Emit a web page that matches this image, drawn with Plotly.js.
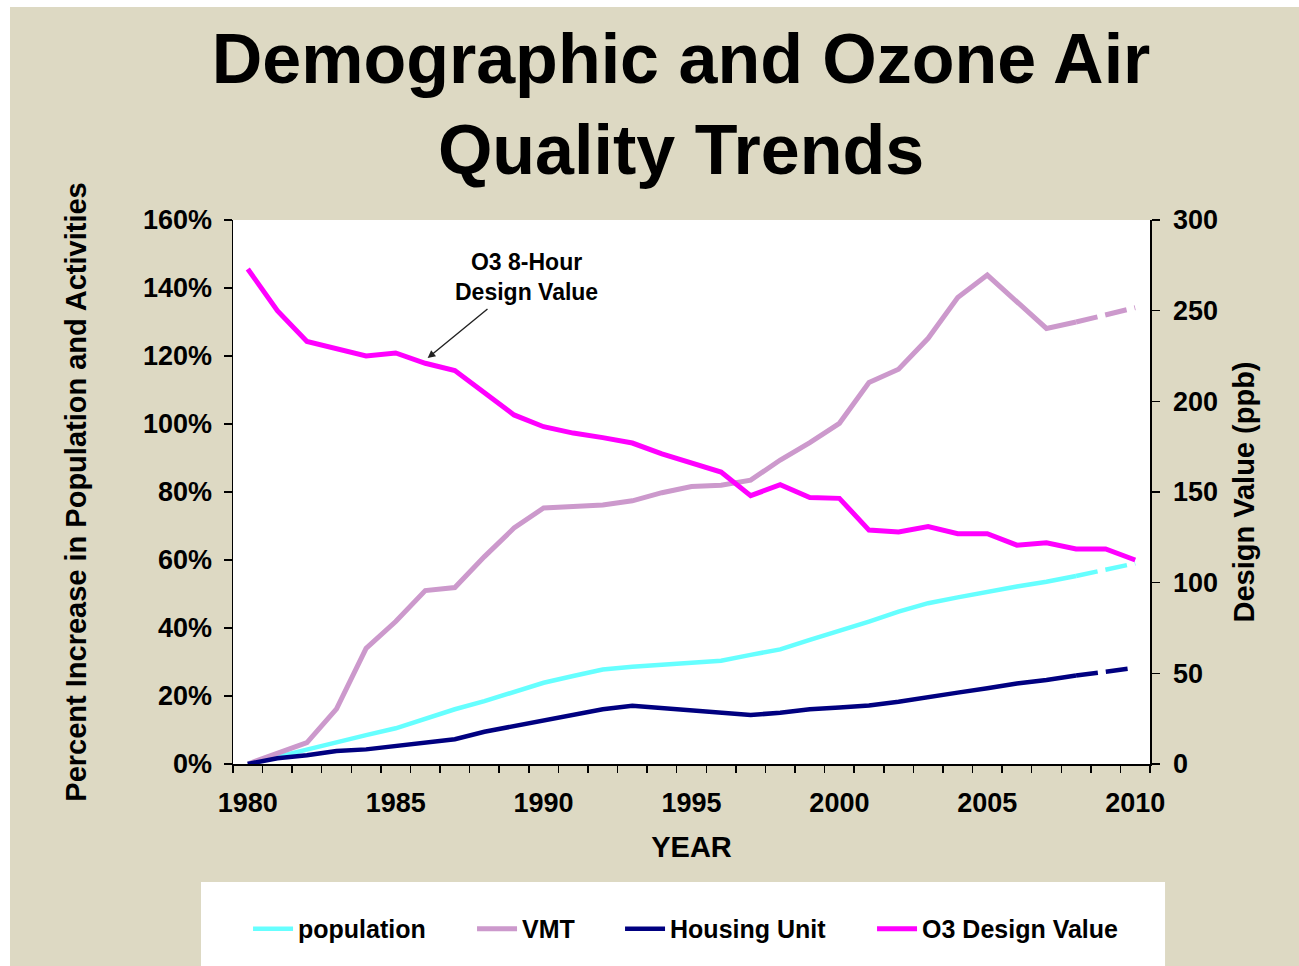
<!DOCTYPE html>
<html>
<head>
<meta charset="utf-8">
<script src="https://cdn.plot.ly/plotly-3.0.1.min.js"></script>
<style>
  html, body { margin: 0; padding: 0; background: #ffffff; width: 1299px; height: 966px; overflow: hidden; }
  #chart { position: absolute; left: 10px; top: 7px; width: 1289px; height: 959px; }
</style>
</head>
<body>
<div id="chart"></div>
<script>
// ---- data ----
const years = [1980,1981,1982,1983,1984,1985,1986,1987,1988,1989,1990,1991,1992,1993,1994,1995,1996,1997,1998,1999,2000,2001,2002,2003,2004,2005,2006,2007,2008,2009,2010];
const population = [0,2.2,4.1,6.6,8.5,10.5,13.4,16.1,18.5,21.3,23.9,25.9,27.8,28.6,29.1,29.6,30.4,32.1,33.7,36.5,39.1,41.9,44.8,47.3,49.0,50.7,52.2,53.6,55.3,57.1,59.0];
const vmt = [0,3.2,6.3,16.2,34.0,41.9,51.0,51.9,61.0,69.4,75.3,75.7,76.2,77.4,79.8,81.6,82.0,83.5,89.4,94.5,100.2,112.2,116.1,125.2,137.2,143.8,136.0,128.1,130.0,132.2,134.2];
const housing = [0,1.7,2.6,3.8,4.3,5.3,6.3,7.3,9.5,11.2,12.9,14.6,16.1,17.1,16.4,15.9,14.9,14.4,15.1,16.1,16.6,17.2,18.3,19.8,21.0,22.3,23.7,24.7,26.0,27.1,28.3];
const o3 = [273,250,233,229,225,226.7,221,217,205,192.5,186,182.5,180,177,171,166,161,148,154,147,146.5,129,128,131,127,127,120.7,122,118.6,118.6,112.5];
const projectionStartYear = 2008;

const leftTicks = [0,20,40,60,80,100,120,140,160];
const leftTickText = ['0%','20%','40%','60%','80%','100%','120%','140%','160%'];
const rightTicks = [0,50,100,150,200,250,300];
const xLabelYears = [1980,1985,1990,1995,2000,2005,2010];

const names = ['population','VMT','Housing Unit','O3 Design Value'];
const colors = ['#66FFFF','#CC99CC','#000080','#FF00FF'];

// ---- build traces ----
const cut = years.indexOf(projectionStartYear);
const FONT = '"Liberation Sans", Arial, sans-serif';
function solidPart(arr){ return arr.slice(0, cut + 1); }
function dashPart(arr){ return arr.slice(cut); }

const series = [population, vmt, housing];
const lw = [4.5, 5, 4.5];
const legendWidths = [169, 93, 197];
const traces = [];
series.forEach((s, i) => {
  traces.push({
    x: solidPart(years), y: solidPart(s), name: names[i], type: 'scatter', mode: 'lines',
    line: {color: colors[i], width: lw[i]}, legendwidth: legendWidths[i], legendrank: i + 1
  });
});
series.forEach((s, i) => {
  traces.push({
    x: dashPart(years), y: dashPart(s), name: names[i], type: 'scatter', mode: 'lines',
    line: {color: colors[i], width: lw[i], dash: '22px,8px'}, showlegend: false
  });
});
traces.push({
  x: years, y: o3, name: names[3], type: 'scatter', mode: 'lines', yaxis: 'y2',
  line: {color: colors[3], width: 5}, legendrank: 4
});

const minorTicks = years.map(y => y - 0.5).concat([years[years.length - 1] + 0.5]);

const layout = {
  width: 1289, height: 959,
  paper_bgcolor: '#DDD9C3',
  plot_bgcolor: '#FFFFFF',
  margin: {l: 223, r: 149, t: 213, b: 202},
  font: {family: FONT, color: '#000000', weight: 'bold'},
  showlegend: true,
  title: {
    text: 'Demographic and Ozone Air<br>Quality Trends',
    font: {family: FONT, size: 70, weight: 'bold', color: '#000000'},
    xref: 'paper', x: 0.4886, xanchor: 'center',
    yref: 'container', y: 0.921, yanchor: 'top'
  },
  xaxis: {
    range: [1979.5, 2010.5], showgrid: false, zeroline: false,
    showline: true, linecolor: '#000000', linewidth: 1.5,
    tickvals: xLabelYears, ticks: '', ticklabelstandoff: 14,
    tickfont: {family: FONT, size: 27, weight: 'bold', color: '#000000'},
    minor: {tickvals: minorTicks, ticks: 'outside', ticklen: 7, tickcolor: '#000000', tickwidth: 1.5, showgrid: false},
    title: {text: 'YEAR', font: {family: FONT, size: 29, weight: 'bold', color: '#000000'}, standoff: 20},
    automargin: true, fixedrange: true
  },
  yaxis: {
    range: [0, 160], tickvals: leftTicks, ticktext: leftTickText, showgrid: false, zeroline: false,
    showline: true, linecolor: '#000000', linewidth: 1.5,
    ticks: 'outside', ticklen: 8, tickcolor: '#000000', tickwidth: 1.5, ticklabelstandoff: 6,
    tickfont: {family: FONT, size: 27, weight: 'bold', color: '#000000'},
    title: {text: 'Percent Increase in Population and Activities', font: {family: FONT, size: 29, weight: 'bold', color: '#000000'}, standoff: 48},
    automargin: true, fixedrange: true
  },
  yaxis2: {
    range: [0, 300], tickvals: rightTicks, overlaying: 'y', side: 'right', showgrid: false, zeroline: false,
    showline: true, linecolor: '#000000', linewidth: 1.5,
    ticks: 'outside', ticklen: 8, tickcolor: '#000000', tickwidth: 1.5, ticklabelstandoff: 8,
    tickfont: {family: FONT, size: 27, weight: 'bold', color: '#000000'},
    title: {text: 'Design Value (ppb)', font: {family: FONT, size: 29, weight: 'bold', color: '#000000'}, standoff: 16},
    automargin: true, fixedrange: true
  },
  legend: {
    orientation: 'h', x: 0.0164, xanchor: 'left', y: -0.3033, yanchor: 'middle',
    bgcolor: 'rgba(0,0,0,0)', borderwidth: 0, itemwidth: 40,
    font: {family: FONT, size: 25, weight: 'bold', color: '#000000'},
    traceorder: 'normal'
  },
  shapes: [{
    type: 'rect', xref: 'paper', yref: 'paper', layer: 'below',
    x0: -0.0349, x1: 1.0164, y0: -0.2169, y1: -0.40,
    fillcolor: '#FFFFFF', line: {width: 0}
  }],
  annotations: [{
    text: 'O3 8-Hour<br>Design Value', x: 1986.08, y: 119.4, xref: 'x', yref: 'y',
    ax: 99, ay: -81, showarrow: true, arrowhead: 2, arrowsize: 1.1, arrowwidth: 1.4, arrowcolor: '#222222',
    startstandoff: 4,
    font: {family: FONT, size: 23, weight: 'bold', color: '#000000'}
  }]
};

Plotly.newPlot('chart', traces, layout, {staticPlot: true, displayModeBar: false});
</script>
</body>
</html>
